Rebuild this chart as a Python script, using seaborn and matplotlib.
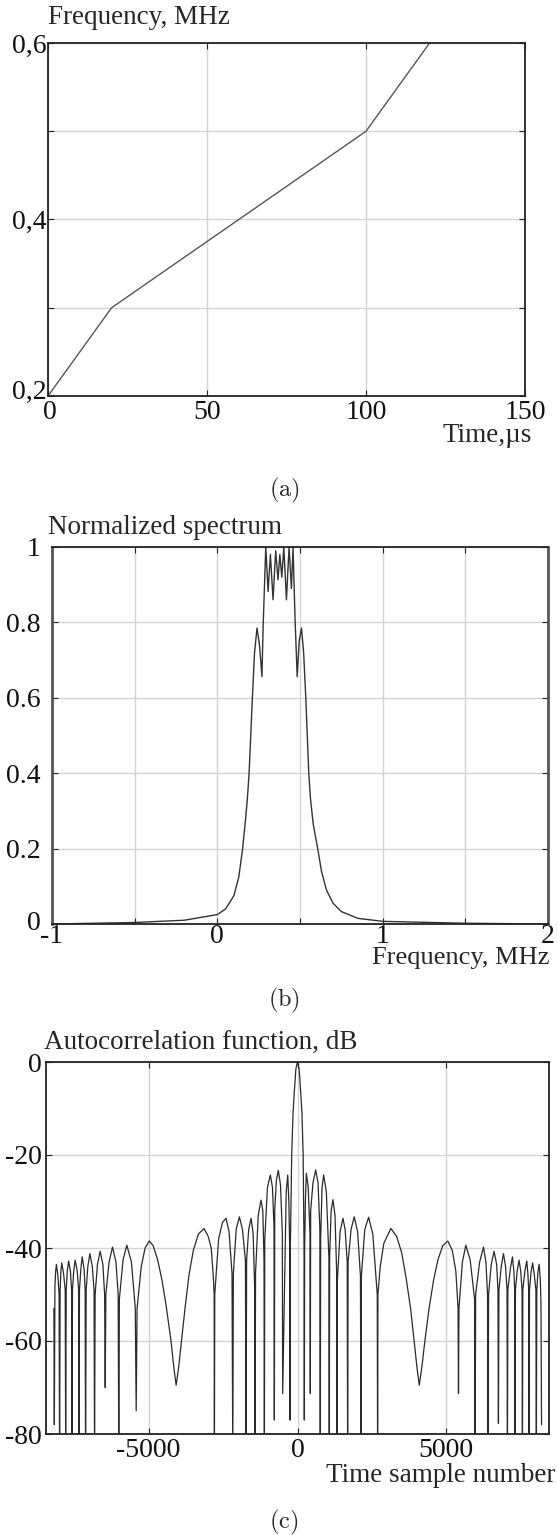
import matplotlib
matplotlib.use('Agg')
import matplotlib.pyplot as plt
import matplotlib.transforms as mtransforms
import pandas as pd
import seaborn as sns

sns.set_style('whitegrid', {'grid.color': '#d4d4d4', 'axes.edgecolor': '#222222'})
plt.rcParams.update({
    'font.family': ['Liberation Serif', 'DejaVu Serif'],
    'mathtext.fontset': 'cm',
    'font.size': 20,
    'axes.linewidth': 1.3,
    'grid.linewidth': 1.0,
})

# (a) frequency law of the chirp
chirp_time = [0, 20, 100, 120]
chirp_freq = [0.2, 0.3, 0.5, 0.6]

# (b) normalized spectrum
spec_freq = [-1.0, -0.5, -0.2, 0.0, 0.05, 0.1, 0.13, 0.153, 0.17, 0.182, 0.192, 0.212,
             0.225, 0.240, 0.255, 0.270, 0.277, 0.293, 0.307, 0.321, 0.337, 0.353,
             0.367, 0.378, 0.390, 0.402, 0.418, 0.434, 0.448, 0.458, 0.470, 0.483,
             0.495, 0.509, 0.522, 0.535, 0.553, 0.563, 0.580, 0.607, 0.63, 0.66,
             0.70, 0.75, 0.85, 1.0, 1.5, 2.0]
spec_val = [0.0, 0.004, 0.01, 0.025, 0.04, 0.075, 0.125, 0.2, 0.275, 0.334, 0.4, 0.6,
            0.72, 0.785, 0.74, 0.656, 0.79, 1.0, 0.882, 0.98, 0.86, 0.99,
            0.913, 0.98, 0.92, 1.0, 0.86, 1.0, 0.89, 1.0, 0.81, 0.656,
            0.75, 0.785, 0.72, 0.6, 0.4, 0.334, 0.265, 0.2, 0.14, 0.09,
            0.055, 0.033, 0.015, 0.007, 0.002, 0.0]

# (c) autocorrelation function in dB, vertices read left to right
acf_left_x = [
    -8185, -8170,
    -8150, -8125, -8100, -8050, -8010, -7994,
    -7975, -7950, -7920, -7860, -7805, -7790,
    -7770, -7735, -7690, -7630, -7590, -7578,
    -7560, -7520, -7470, -7400, -7355, -7343,
    -7325, -7285, -7235, -7170, -7135, -7121,
    -7100, -7045, -6975, -6895, -6835, -6819,
    -6800, -6720, -6630, -6540, -6480, -6460,
    -6440, -6330, -6215, -6100, -6025, -6005,
    -5985, -5860, -5735, -5580, -5450, -5420,
    -5390, -5250, -5120, -4980, -4850, -4700, -4550, -4400, -4250, -4150,
    -4077, -4000, -3900, -3780, -3650, -3500, -3330, -3140, -3000, -2900,
    -2830, -2800, -2792,
    -2780, -2650, -2520, -2400, -2300, -2200, -2175,
    -2155, -2060, -1953, -1850, -1750, -1728,
    -1710, -1640, -1560, -1490, -1440, -1426,
    -1410, -1320, -1225, -1165, -1125, -1113,
    -1100, -1010, -912, -840, -790, -778,
    -765, -710, -644, -570, -510, -498,
    -440, -380, -329, -290, -265, -252,
    -240, -195, -150, -110, -55, 0]
acf_left_db = [
    -53, -78,
    -48, -45, -43.5, -46, -50, -85,
    -49, -45, -43.2, -45.5, -49, -80,
    -49, -45, -42.8, -45, -49, -85,
    -49, -45, -42.6, -45, -49, -85,
    -49, -45, -41.9, -44.5, -49, -85,
    -49, -44, -41.2, -44, -49, -85,
    -50, -43.5, -40.7, -43.5, -50, -70,
    -50, -43, -39.8, -43, -50, -85,
    -51, -42.5, -39.4, -43, -53, -75,
    -53, -44, -40, -38.5, -39.5, -42.5, -47, -53, -60, -66,
    -69.5, -66, -60, -53, -46, -40.5, -37, -35.8, -37.5, -40,
    -46, -50, -85,
    -50, -38, -34.5, -33.6, -36.5, -45.5, -85,
    -45.5, -36, -33.3, -36, -42.6, -85,
    -42.6, -36, -33.6, -37, -48.3, -85,
    -45.5, -33, -29.7, -32, -42.6, -85,
    -38.3, -27, -24.3, -27, -35.5, -77,
    -31.9, -25.5, -23.3, -26.5, -36.9, -71.3,
    -49.8, -28, -24.3, -30, -39, -77,
    -40, -20, -11, -6.7, -1.5, 0.0]
acf_right_x = [
    55, 110, 150, 190, 220, 229,
    240, 265, 297, 360, 420, 430,
    442, 520, 610, 690, 752, 765,
    778, 825, 879, 970, 1055, 1067,
    1080, 1130, 1191, 1260, 1314, 1326,
    1340, 1430, 1527, 1600, 1670, 1684,
    1700, 1800, 1906, 2020, 2115, 2131,
    2147, 2260, 2389, 2530, 2680, 2691,
    2702, 2780, 2900, 3138, 3330, 3500, 3650, 3800, 3920, 4020,
    4090, 4170, 4280, 4420, 4570, 4720, 4880, 5050, 5200, 5320, 5395,
    5409,
    5425, 5540, 5655, 5800, 5950, 5967,
    5985, 6120, 6249, 6330, 6385, 6403,
    6420, 6510, 6605, 6690, 6735, 6751,
    6768, 6845, 6920, 6990, 7040, 7053,
    7068, 7150, 7222, 7270, 7297, 7309,
    7322, 7380, 7444, 7500, 7545, 7557,
    7570, 7640, 7702, 7740, 7768, 7780,
    7795, 7850, 7900, 7960, 8010, 8025,
    8040, 8080, 8120, 8160, 8180, 8200]
acf_right_db = [
    -1.5, -6.7, -11, -20, -40, -77,
    -40, -30, -23.9, -27, -37, -71.3,
    -32, -26, -23.2, -26, -36, -85,
    -38, -27, -24.3, -28, -42, -85,
    -42, -32, -29.6, -33, -45, -85,
    -47, -36.5, -33.6, -36, -43, -85,
    -43, -36, -33.3, -36.5, -46, -85,
    -46, -36, -33.4, -37, -50, -85,
    -50, -44, -39, -35.8, -37.5, -41, -46.5, -53, -60, -66,
    -69.5, -66, -60, -53, -47, -42.5, -39.5, -38.5, -40.5, -45, -53,
    -71.3,
    -53, -43, -39.4, -42.5, -51, -85,
    -50, -43, -39.8, -43, -50, -85,
    -50, -43.5, -40.7, -43.5, -49, -77.7,
    -49, -44, -41.2, -44, -49, -85,
    -49, -44.5, -41.9, -45, -49, -85,
    -49, -45, -42.6, -45, -49, -85,
    -49, -45, -42.8, -45.5, -49, -85,
    -49, -45, -43.2, -46, -49, -85,
    -49, -45, -43.5, -47, -52, -78]

W, H = 558, 1535
fig = plt.figure(figsize=(W / 100, H / 100), dpi=100)


def add_ax(left, top, right, bottom):
    return fig.add_axes([left / W, 1 - bottom / H, (right - left) / W, (bottom - top) / H])


def style_ax(ax, xpad, ypad):
    ax.tick_params(direction='in', length=4, width=0.8, colors='#222222',
                   bottom=True, top=True, left=True, right=True,
                   labelsize=20, labelcolor='#111111')
    ax.tick_params(axis='x', pad=xpad)
    ax.tick_params(axis='y', pad=ypad)
    for sp in ax.spines.values():
        sp.set_color('#222222')
    ax.grid(True, color='#d4d4d4', lw=1.0)
    ax.set_xlabel('')
    ax.set_ylabel('')


def nudge(label, dx, dy):
    # shift a single tick label by a few pixels
    label.set_transform(label.get_transform() +
                        mtransforms.ScaledTranslation(dx / 100, dy / 100, fig.dpi_scale_trans))


# panel (a)
ax1 = add_ax(48, 43, 525, 396)
sns.lineplot(x=chirp_time, y=chirp_freq, ax=ax1, color='#555555', lw=1.0)
ax1.set_xlim(0, 150)
ax1.set_ylim(0.2, 0.6)
ax1.set_xticks([0, 50, 100, 150])
ax1.set_xticklabels(['0', '50', '100', '150'])
ax1.set_yticks([0.2, 0.3, 0.4, 0.5, 0.6])
ax1.set_yticklabels(['0,2', '', '0,4', '', '0,6'])
style_ax(ax1, 3, 1)
nudge(ax1.get_yticklabels()[0], 0, 7)
nudge(ax1.get_xticklabels()[0], 2, 0)

# panel (b)
ax2 = add_ax(52, 547, 548, 924)
sns.lineplot(x=spec_freq, y=spec_val, ax=ax2, color='#333333', lw=1.0, sort=False, estimator=None)
ax2.set_xlim(-1, 2)
ax2.set_ylim(0, 1)
ax2.set_xticks([-1, -0.5, 0, 0.5, 1, 1.5, 2])
ax2.set_xticklabels(['-1', '', '0', '', '1', '', '2'])
ax2.set_yticks([0, 0.2, 0.4, 0.6, 0.8, 1])
ax2.set_yticklabels(['0', '0.2', '0.4', '0.6', '0.8', '1'])
style_ax(ax2, 0, 8)
nudge(ax2.get_yticklabels()[0], 0, 3)
for side in ('left', 'right'):
    ax2.spines[side].set_linewidth(2.0)
    ax2.spines[side].set_color('#555555')

# panel (c)
acf = pd.DataFrame({'x': acf_left_x + acf_right_x, 'db': acf_left_db + acf_right_db})
ax3 = add_ax(46, 1062, 549, 1434)
sns.lineplot(data=acf, x='x', y='db', ax=ax3, color='#2a2a2a', lw=0.9, sort=False, estimator=None)
ax3.set_xlim(-8450, 8450)
ax3.set_ylim(-80, 0)
ax3.set_xticks([-5000, 0, 5000])
ax3.set_xticklabels(['-5000', '0', '5000'])
ax3.set_yticks([0, -20, -40, -60, -80])
ax3.set_yticklabels(['0', '-20', '-40', '-60', '-80'])
style_ax(ax3, 3, 3)

fig.text(48 / W, 1 - 18 / H, 'Frequency, MHz', ha='left', va='center', fontsize=19.5)
fig.text(532 / W, 1 - 436 / H, 'Time,µs', ha='right', va='center', fontsize=19.5)
fig.text(284 / W, 1 - 490 / H, r'$\mathrm{(a)}$', ha='center', va='center', fontsize=17.5)
fig.text(48 / W, 1 - 527 / H, 'Normalized spectrum', ha='left', va='center', fontsize=19.5)
fig.text(550 / W, 1 - 958 / H, 'Frequency, MHz', ha='right', va='center', fontsize=19)
fig.text(284 / W, 1 - 1000 / H, r'$\mathrm{(b)}$', ha='center', va='center', fontsize=17.5)
fig.text(44 / W, 1 - 1042 / H, 'Autocorrelation function, dB', ha='left', va='center', fontsize=19.5)
fig.text(555 / W, 1 - 1476 / H, 'Time sample number', ha='right', va='center', fontsize=19.5)
fig.text(284 / W, 1 - 1522 / H, r'$\mathrm{(c)}$', ha='center', va='center', fontsize=17.5)

fig.savefig('out.png', dpi=100)
